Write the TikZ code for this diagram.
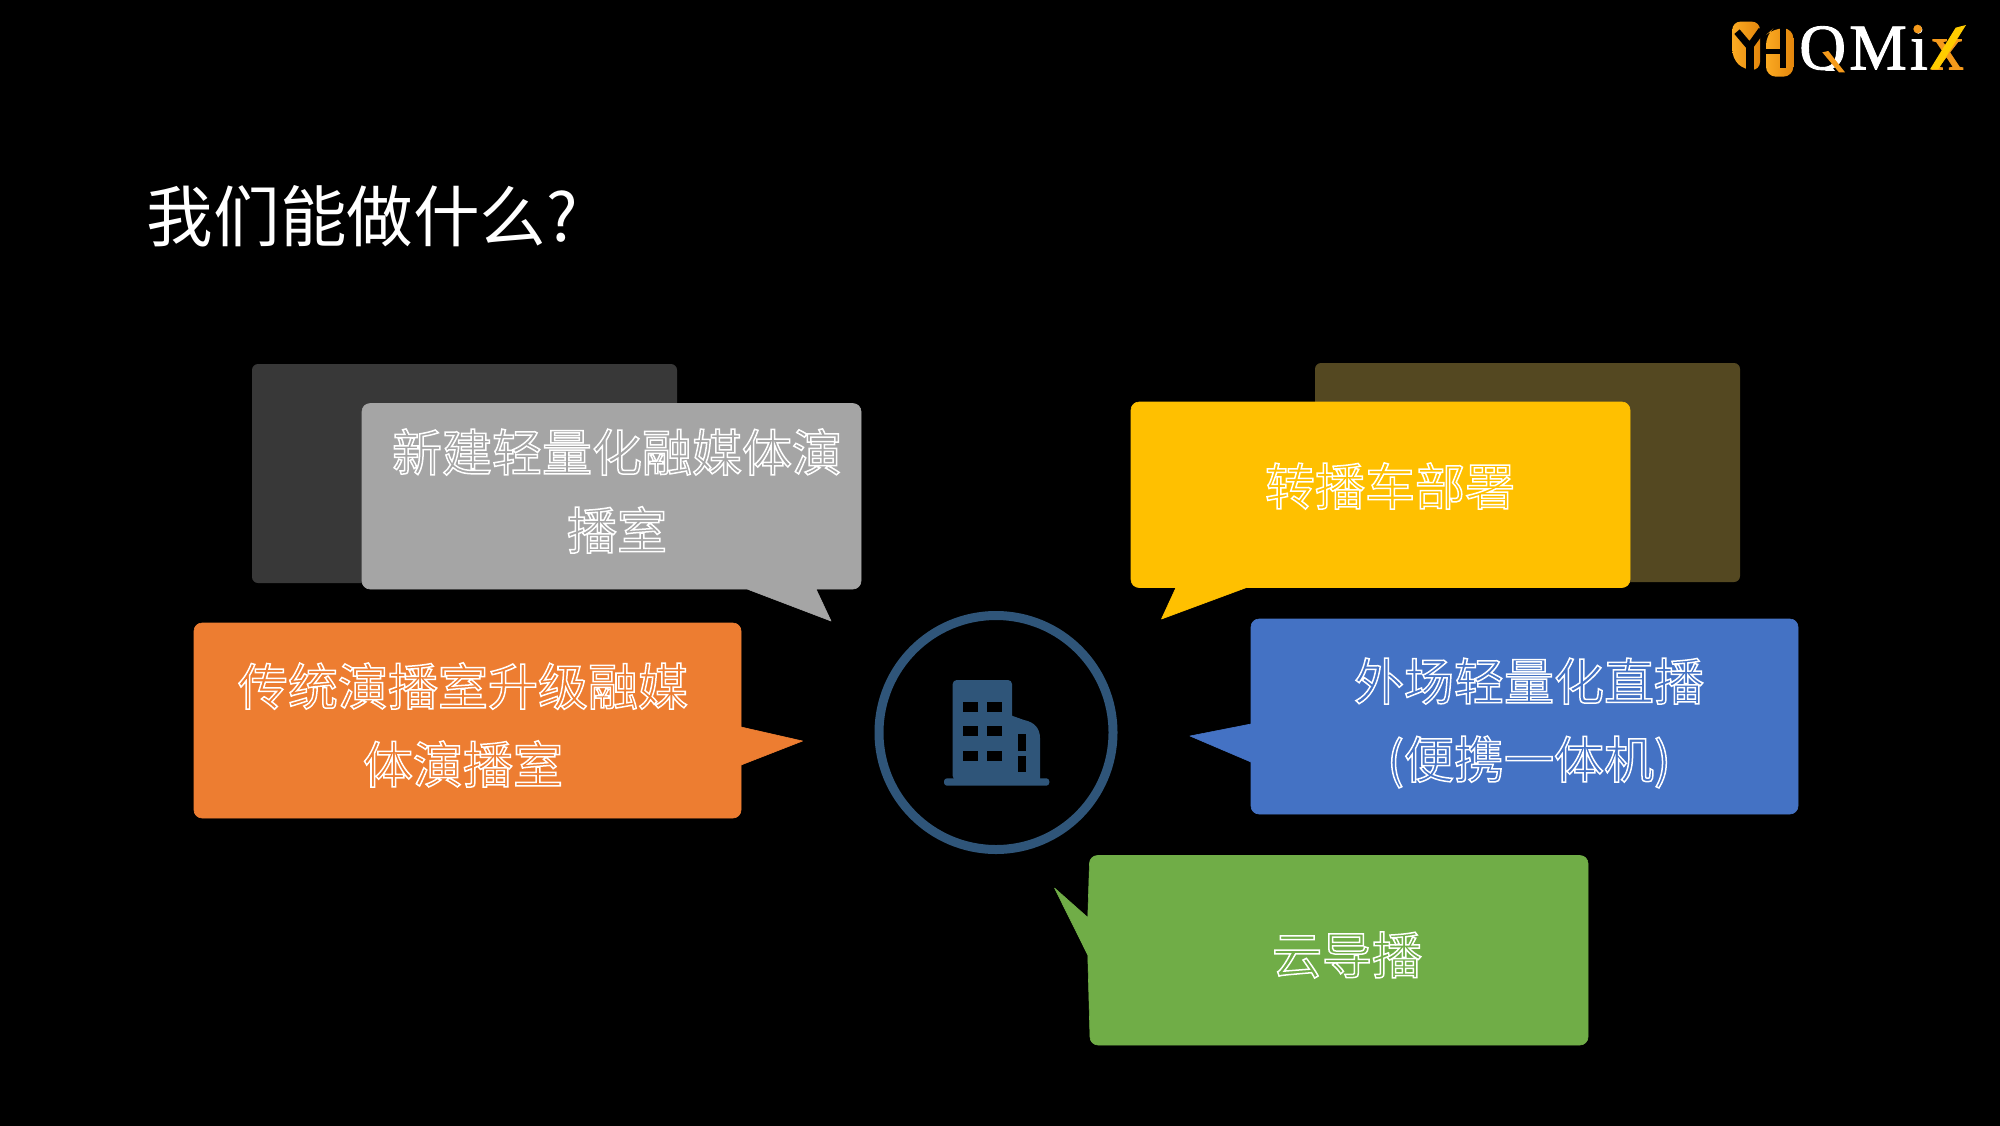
\documentclass[tikz,border=0pt]{standalone}
\usepackage{fontspec}
\setmainfont{Liberation Serif}
\newfontfamily\cjk{Noto Sans CJK SC}
\usetikzlibrary{calc}
\newcommand{\hollow}[1]{\special{pdf:literal direct 1 Tr 1.5 w}#1\special{pdf:literal direct 0 Tr}}
\newcommand{\heavy}[1]{\special{pdf:literal direct 2 Tr 0.9 w}#1\special{pdf:literal direct 0 Tr}}
\definecolor{cgray}{HTML}{A5A5A5}
\definecolor{cdgray}{HTML}{383838}
\definecolor{corange}{HTML}{ED7D31}
\definecolor{cyellow}{HTML}{FFC000}
\definecolor{cdyellow}{HTML}{544821}
\definecolor{cblue}{HTML}{4472C4}
\definecolor{cgreen}{HTML}{70AD47}
\definecolor{cnavy}{HTML}{2F5579}
\definecolor{logoa}{HTML}{FBAA22}
\definecolor{logob}{HTML}{E3860C}
\definecolor{logoy}{HTML}{FFCC00}
\definecolor{logoo}{HTML}{F59A1B}
\tikzset{
  lbl/.style={text=white,inner sep=0pt,align=center,font=\cjk\fontsize{50}{78}\selectfont},
  bub/.style={line width=0.6pt,line join=round},
  win/.style={fill=black},
  logotxt/.style={inner sep=0pt,anchor=base west,font=\fontsize{65}{70}\selectfont},
}
\begin{document}
\begin{tikzpicture}[x=1pt,y=-1pt]
\useasboundingbox (0,0) rectangle (2000,1125);
\fill[black] (-5,-5) rectangle (2005,1130);

% title
\node[anchor=center,inner sep=0pt,text=white,font=\cjk\fontsize{66.6}{70}\selectfont] (title) at (362.5,216) {我们能做什么?};

% backing panels
\fill[cdgray,rounded corners=6pt] (252,364) rectangle (677,583);
\fill[cdyellow,rounded corners=6pt] (1315,363) rectangle (1740,582);

% gray bubble
\filldraw[cgray,bub] (370,403.5) -- (853,403.5) arc[start angle=-90,end angle=0,radius=8] -- (861,581) arc[start angle=0,end angle=90,radius=8]
  -- (816,589) -- (831,621) -- (747,589) -- (370,589) arc[start angle=90,end angle=180,radius=8] -- (362,411.5) arc[start angle=180,end angle=270,radius=8] -- cycle;
\node[lbl] (t1) at (617,491) {\hollow{新建轻量化融媒体演\\播室}};

% orange bubble
\filldraw[corange,bub] (202,623) -- (733,623) arc[start angle=-90,end angle=0,radius=8] -- (741,727) -- (802.5,741) -- (741,765) -- (741,810) arc[start angle=0,end angle=90,radius=8]
  -- (202,818) arc[start angle=90,end angle=180,radius=8] -- (194,631) arc[start angle=180,end angle=270,radius=8] -- cycle;
\node[lbl] (t2) at (463,725) {\hollow{传统演播室升级融媒\\体演播室}};

% yellow bubble
\filldraw[cyellow,bub] (1139,402) -- (1622,402) arc[start angle=-90,end angle=0,radius=8] -- (1630,579.5) arc[start angle=0,end angle=90,radius=8]
  -- (1246.5,587.5) -- (1161.5,619) -- (1176,587.5) -- (1139,587.5) arc[start angle=90,end angle=180,radius=8] -- (1131,410) arc[start angle=180,end angle=270,radius=8] -- cycle;
\node[lbl] (t3) at (1390,486) {\hollow{转播车部署}};

% blue bubble
\filldraw[cblue,bub] (1259,619) -- (1790,619) arc[start angle=-90,end angle=0,radius=8] -- (1798,806) arc[start angle=0,end angle=90,radius=8]
  -- (1259,814) arc[start angle=90,end angle=180,radius=8] -- (1251,762) -- (1190,736) -- (1251,724) -- (1251,627) arc[start angle=180,end angle=270,radius=8] -- cycle;
\node[lbl] (t4) at (1529,723) {\hollow{外场轻量化直播\\(便携一体机)}};

% green bubble
\filldraw[cgreen,bub] (1098,855.5) -- (1580,855.5) arc[start angle=-90,end angle=0,radius=8] -- (1588,1037) arc[start angle=0,end angle=90,radius=8]
  -- (1098,1045) arc[start angle=90,end angle=180,radius=8] -- (1087.8,955) -- (1054.5,888) -- (1087.8,917.5) -- (1089.5,863.5) arc[start angle=180,end angle=270,radius=8] -- cycle;
\node[lbl] (t5) at (1347,955) {\hollow{云导播}};

% circle and building
\draw[cnavy,line width=9pt] (996,732.5) circle[radius=117];
\fill[cnavy,rounded corners=3pt] (944,778.3) rectangle (1049.3,785.7);
\fill[cnavy,rounded corners=4pt] (952.7,780) -- (952.7,680) -- (1012,680) -- (1012,780) -- cycle;
\fill[cnavy] (1010,780) -- (1010,715) -- (1024,720) .. controls (1034,722) and (1040,728) .. (1040,738) -- (1040,780) -- cycle;
\foreach \yy in {701.7,726,751.3} \foreach \xx in {962.7,987.2} \fill[win] (\xx,\yy) rectangle ++(15,10);
\fill[win] (1018,734) rectangle (1026,750.7);
\fill[win] (1018,755.7) rectangle (1026,772.3);

% logo mark
\begin{scope}[shift={(1725,15)},x=0.3333pt,y=-0.3333pt]
  \shade[left color=logoa,right color=logob,rounded corners=8pt] (22,20) -- (105,20) -- (105,165) -- (58,165) -- (22,130) -- cycle;
  \draw[black,line width=7pt] (36,50) -- (74,95) -- (110,45);
  \fill[black] (63,92) rectangle (86,170);
  \shade[left color=logoa,right color=logob,rounded corners=10pt] (123,60) -- (145,40) -- (205,40) -- (205,185) -- (123,185) -- cycle;
  \fill[black] (120,103) rectangle (168,118);
  \fill[black] (165,36) rectangle (183,158);
\end{scope}

% logo wordmark
\node[logotxt,text=white] (qmi) at (1799,69.3) {\heavy{Q\kern3pt M\kern3pt i}};
\node[logotxt,text=logoo] (xx) at (1931,69.3) {\heavy{x}};
\fill[black] (1795,70.6) rectangle (1860,90);
\begin{scope}[shift={(1795,15)},x=0.3333pt,y=-0.3333pt]
  \fill[logoo] (82,112) -- (100,108) -- (150,172) -- (132,172) -- cycle;
  \fill[logoo] (368,42) circle[radius=13];
  \fill[logoy] (405,163) -- (430,163) -- (513,30) -- (482,38) -- cycle;
\end{scope}
\end{tikzpicture}
\end{document}
